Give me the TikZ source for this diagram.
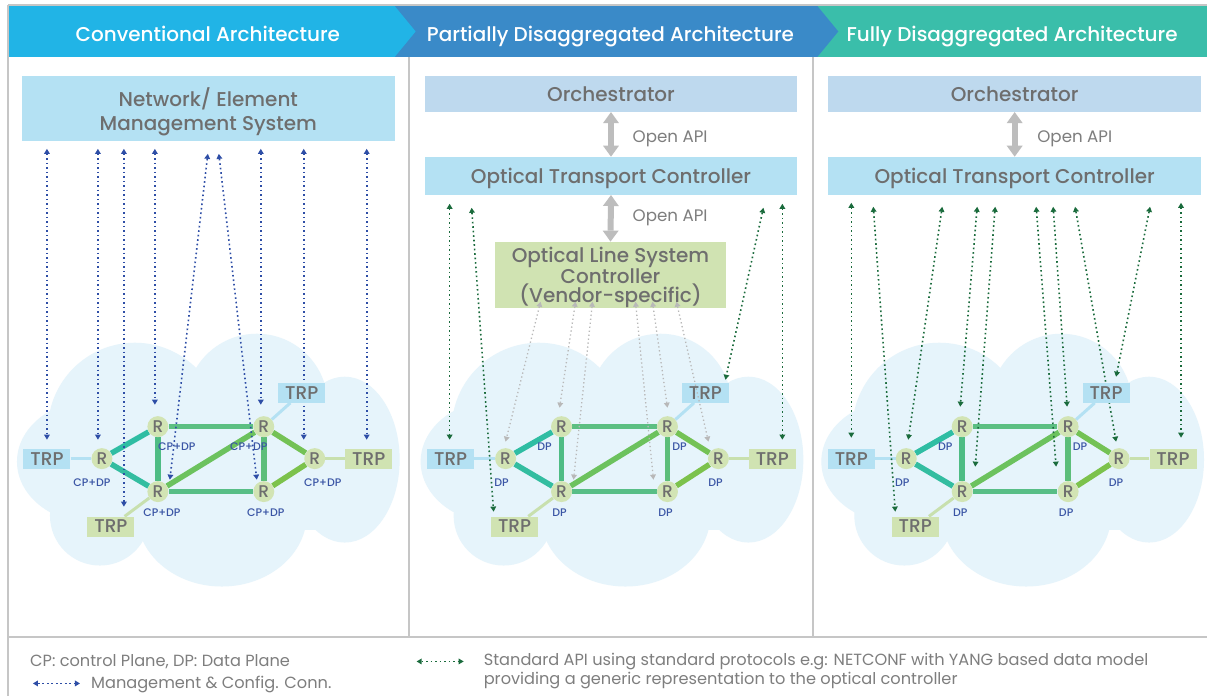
\documentclass[tikz,border=0pt]{standalone}
\usepackage{fontspec}
\setmainfont{Poppins}
\IfFontExistsTF{Poppins Medium}{\newfontfamily\medfont{Poppins Medium}}{\newfontfamily\medfont{Poppins}[FakeBold=1]}
\usetikzlibrary{arrows.meta}
\pgfdeclarelayer{bg}
\pgfdeclarelayer{cloud}
\pgfdeclarelayer{links}
\pgfdeclarelayer{arrows}
\pgfdeclarelayer{front}
\pgfsetlayers{bg,cloud,links,arrows,main,front}

\definecolor{hdrA}{HTML}{21B4E6}
\definecolor{hdrB}{HTML}{3A8AC8}
\definecolor{hdrC}{HTML}{3ABEAA}
\definecolor{boxblue}{HTML}{B4E1F3}
\definecolor{boxsteel}{HTML}{BED9EE}
\definecolor{boxgreen}{HTML}{D0E3B2}
\definecolor{cloudc}{HTML}{E6F4FB}
\definecolor{rfill}{HTML}{D2E4B4}
\definecolor{txtgray}{HTML}{6E6E6E}
\definecolor{lgray}{HTML}{7E7E7E}
\definecolor{mblue}{HTML}{2E4EA6}
\definecolor{sgreen}{HTML}{1A6B3C}
\definecolor{vgray}{HTML}{B8B8B8}
\definecolor{apigray}{HTML}{BDBDBD}
\definecolor{framec}{HTML}{C6C6C6}
\definecolor{lblblue}{HTML}{3A55A5}
\definecolor{tlblue}{HTML}{B4E1F3}
\definecolor{tlgreen}{HTML}{C8E0AE}
\definecolor{lkA}{HTML}{2FBDA3}
\definecolor{lkB}{HTML}{33BDA0}
\definecolor{lkC}{HTML}{4EBC84}
\definecolor{lkD}{HTML}{5CBF82}
\definecolor{lkE}{HTML}{6CC25E}
\definecolor{lkF}{HTML}{58BE86}
\definecolor{lkG}{HTML}{5DBE7A}
\definecolor{lkH}{HTML}{74C255}
\definecolor{lkI}{HTML}{7CC24C}

\tikzset{
  hdr/.style={text=white, font=\medfont\fontsize{20}{22}\selectfont, inner sep=0pt, anchor=base},
  boxtxt/.style={text=txtgray, font=\medfont\fontsize{20}{18.5}\selectfont, inner sep=0pt, align=center, text depth=0pt},
  rnode/.style={circle, fill=rfill, minimum size=21pt, inner sep=0pt, text=txtgray, font=\medfont\fontsize{17}{17}\selectfont},
  trpbox/.style={minimum width=47pt, minimum height=20pt, inner sep=0pt, text=txtgray, font=\medfont\fontsize{18.5}{18.5}\selectfont},
  trpb/.style={trpbox, fill=boxblue},
  trpg/.style={trpbox, fill=boxgreen},
  lbl/.style={text=lblblue, font=\medfont\fontsize{11}{11}\selectfont, inner sep=0pt},
  link/.style={line width=5.5pt},
  tlink/.style={line width=3pt},
  dtip/.style={{Triangle[width=6pt,length=5pt,line width=0pt]}-{Triangle[width=6pt,length=5pt,line width=0pt]}},
  mgmt/.style={draw=mblue, line width=1.6pt, dash pattern=on 1.6pt off 2.9pt, dtip},
  stdapi/.style={draw=sgreen, line width=1.6pt, dash pattern=on 1.6pt off 2.9pt, dtip},
  vend/.style={draw=vgray, line width=1.3pt, dash pattern=on 1.3pt off 2.7pt, dtip},
  apiarr/.style={draw=apigray, line width=6pt, {Triangle[width=16pt,length=11pt,line width=0pt]}-{Triangle[width=16pt,length=11pt,line width=0pt]}},
  apitxt/.style={text=lgray, font=\fontsize{16.7}{18}\selectfont, inner sep=0pt, anchor=base west},
  foot/.style={text=lgray, font=\fontsize{16.2}{19}\selectfont, inner sep=0pt, anchor=base west},
}

\newcommand\drawcloud{%
  \fill[cloudc] (95,462) ellipse [x radius=78pt, y radius=62pt];
  \fill[cloudc] (135,430) circle [radius=87pt];
  \fill[cloudc] (257,405) circle [radius=71pt];
  \fill[cloudc] (345,460) ellipse [x radius=55pt, y radius=83pt];
  \fill[cloudc] (222,515) ellipse [x radius=85pt, y radius=72pt];
  \fill[cloudc] (100,516) circle [radius=50pt];
  \fill[cloudc] (70,420) rectangle (360,530);
}

\newcommand\netpanel[2]{%
\begin{scope}[xshift=#2pt]
  \begin{pgfonlayer}{cloud}\drawcloud\end{pgfonlayer}
  \node[rnode] (#1r1) at (102,459) {R};
  \node[rnode] (#1r2) at (158,427) {R};
  \node[rnode] (#1r3) at (158,492) {R};
  \node[rnode] (#1r4) at (264,427) {R};
  \node[rnode] (#1r5) at (264,492) {R};
  \node[rnode] (#1r6) at (315,459) {R};
  \node[trpb] (#1ta) at (47,459) {TRP};
  \node[trpg] (#1tb) at (111,527) {TRP};
  \node[trpb] (#1tc) at (302,393) {TRP};
  \node[trpg] (#1td) at (369,459) {TRP};
  \begin{pgfonlayer}{links}
    \draw[link,lkA] (#1r1) -- (#1r2);
    \draw[link,lkB] (#1r1) -- (#1r3);
    \draw[link,lkC] (#1r2) -- (#1r3);
    \draw[link,lkD] (#1r2) -- (#1r4);
    \draw[link,lkE] (#1r3) -- (#1r4);
    \draw[link,lkF] (#1r3) -- (#1r5);
    \draw[link,lkG] (#1r4) -- (#1r5);
    \draw[link,lkH] (#1r4) -- (#1r6);
    \draw[link,lkI] (#1r5) -- (#1r6);
    \draw[tlink,tlblue] (#1ta) -- (#1r1);
    \draw[tlink,tlblue] (#1tc) -- (#1r4);
    \draw[tlink,tlgreen] (#1tb) -- (#1r3);
    \draw[tlink,tlgreen] (#1td) -- (#1r6);
  \end{pgfonlayer}
\end{scope}}

\begin{document}
\begin{tikzpicture}[x=1pt,y=-1pt]
\begin{pgfonlayer}{bg}
  \fill[white] (0,0) rectangle (1208,697);
  \fill[hdrC] (818,6) rectangle (1208,57);
  \fill[hdrB] (395,6) -- (818,6) -- (839,31.5) -- (818,57) -- (395,57) -- cycle;
  \fill[hdrA] (8,6) -- (395,6) -- (416,31.5) -- (395,57) -- (8,57) -- cycle;
  \draw[framec, line width=1.5pt] (8,5) -- (1208,5);
  \draw[framec, line width=2pt] (8,5) -- (8,697);
  \draw[framec, line width=2pt] (409,57) -- (409,638);
  \draw[framec, line width=2pt] (814,57) -- (814,638);
  \draw[framec, line width=2pt] (8,638) -- (1208,638);
\end{pgfonlayer}
\useasboundingbox (0,0) rectangle (1208,697);

% headers
\node[hdr] (h1) at (208,41.5) {Conventional Architecture};
\node[hdr] (h2) at (611,41.5) {Partially Disaggregated Architecture};
\node[hdr] (h3) at (1013,41.5) {Fully Disaggregated Architecture};

% panel 1 top
\node[boxtxt, fill=boxblue, minimum width=373pt, minimum height=65pt, font=\medfont\fontsize{20}{24}\selectfont] (nms) at (208.5,109) {Network/ Element\\Management System};

% panel 2 top
\node[boxtxt, fill=boxsteel, minimum width=373pt, minimum height=36pt] (orch2) at (611.5,94) {Orchestrator};
\node[boxtxt, fill=boxblue, minimum width=373pt, minimum height=38pt] (otc2) at (611.5,176) {Optical Transport Controller};
\node[boxtxt, fill=boxgreen, minimum width=232pt, minimum height=66pt] (ols) at (611,275) {Optical Line System\\Controller\\(Vendor-specific)};
\draw[apiarr] (orch2.south) -- (otc2.north);
\draw[apiarr] (otc2.south) -- (ols.north);
\node[apitxt] (api2a) at (633,143) {Open API};
\node[apitxt] (api2b) at (633,222) {Open API};

% panel 3 top
\node[boxtxt, fill=boxsteel, minimum width=373pt, minimum height=36pt] (orch3) at (1015.5,94) {Orchestrator};
\node[boxtxt, fill=boxblue, minimum width=373pt, minimum height=38pt] (otc3) at (1015.5,176) {Optical Transport Controller};
\draw[apiarr] (orch3.south) -- (otc3.north);
\node[apitxt] (api3a) at (1038,143) {Open API};

% networks
\netpanel{a}{0}
\netpanel{b}{404}
\netpanel{c}{805}

% labels
\node[lbl] (al1) at (92,483) {CP+DP};
\node[lbl] (al2) at (177,447) {CP+DP};
\node[lbl] (al3) at (162,513) {CP+DP};
\node[lbl] (al4) at (249,447) {CP+DP};
\node[lbl] (al5) at (266,513) {CP+DP};
\node[lbl] (al6) at (323,483) {CP+DP};
\foreach \n/\x/\y in {1/98/483, 2/141/447, 3/156/513, 4/276/447, 5/262/513, 6/312/483} {
  \node[lbl] (bl\n) at (\x+404,\y) {DP};
  \node[lbl] (cl\n) at (\x+805,\y) {DP};
}

% management arrows (panel 1)
\begin{pgfonlayer}{arrows}
\foreach \i/\xa/\ya/\xb/\yb in {1/47/149/47/440, 2/98/149/98/440, 3/124/149/124/507, 4/155/149/155/405, 5/208/154/170/480, 6/219/154/257/480, 7/261/149/261/405, 8/304/149/304/440, 9/367/149/367/440} {
  \coordinate (m\i t) at (\xa,\ya);
  \coordinate (m\i b) at (\xb,\yb);
  \draw[mgmt] (m\i t) -- (m\i b);
}
% standard API arrows (panels 2 and 3)
\foreach \i/\xa/\ya/\xb/\yb in {1/450/204/450/440, 2/472/208/494/512, 3/764/208/726/380, 4/783/204/783/440,
  5/852/203/852/438, 6/874/207/896/512, 7/943/207/909/440, 8/978/207/961/407, 9/996/207/976/467,
  10/1037/207/1057/467, 11/1054/207/1068/407, 12/1076/207/1117/442, 13/1151/207/1117/377, 14/1182/203/1182/438} {
  \coordinate (s\i t) at (\xa,\ya);
  \coordinate (s\i b) at (\xb,\yb);
  \draw[stdapi] (s\i t) -- (s\i b);
}
\end{pgfonlayer}
% vendor-specific arrows
\begin{pgfonlayer}{front}
\foreach \i/\xa/\ya/\xb/\yb in {1/541/302/506/442, 2/576/302/560/408, 3/593/302/574/480, 4/636/302/654/480, 5/653/302/668/408, 6/677/302/709/442} {
  \coordinate (v\i t) at (\xa,\ya);
  \coordinate (v\i b) at (\xb,\yb);
  \draw[vend] (v\i t) -- (v\i b);
}
\end{pgfonlayer}

% footer
\node[foot] (f1) at (30,667.5) {CP: control Plane, DP: Data Plane};
\coordinate (lg1a) at (33,684);
\coordinate (lg1b) at (80,684);
\draw[mgmt] (lg1a) -- (lg1b);
\node[foot] (f2) at (91,689.5) {Management \& Config. Conn.};
\coordinate (lg2a) at (417,662);
\coordinate (lg2b) at (464,662);
\draw[stdapi] (lg2a) -- (lg2b);
\node[foot] (f3) at (484,666.5) {Standard API using standard protocols e.g: NETCONF with YANG based data model};
\node[foot] (f4) at (484,685.5) {providing a generic representation to the optical controller};
\end{tikzpicture}
\end{document}
